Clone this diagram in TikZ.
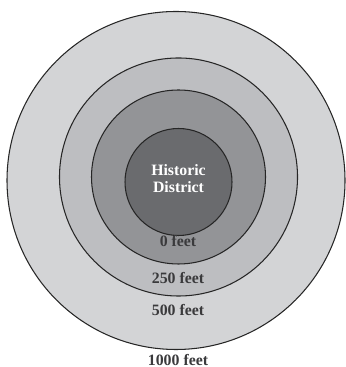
\documentclass[tikz,border=0pt]{standalone}
\usepackage{fontspec}
\setmainfont{Liberation Serif}
\definecolor{ringfour}{HTML}{D3D4D6}
\definecolor{ringthree}{HTML}{BDBEC1}
\definecolor{ringtwo}{HTML}{939497}
\definecolor{ringone}{HTML}{6A6B6E}
\definecolor{labelgray}{HTML}{3A3A3C}
\begin{document}
\begin{tikzpicture}[line width=0.6pt,
  ring/.style={draw=black!85},
  dist/.style={font=\fontsize{9}{9.6}\selectfont\bfseries, text=labelgray, inner sep=1pt}]
  \useasboundingbox (0,0) rectangle (6.900,7.340);
  \filldraw[ring, fill=ringfour] (3.520,3.730) circle (3.380);
  \filldraw[ring, fill=ringthree] (3.570,3.800) circle (2.380);
  \filldraw[ring, fill=ringtwo] (3.570,3.800) circle (1.740);
  \filldraw[ring, fill=ringone] (3.570,3.700) circle (1.070);
  \node[dist, text=white, align=center] (hd) at (3.570,3.770) {Historic\\District};
  \node[dist] (f0) at (3.560,2.520) {0 feet};
  \node[dist] (f250) at (3.560,1.780) {250 feet};
  \node[dist] (f500) at (3.560,1.140) {500 feet};
  \node[dist] (f1000) at (3.560,0.140) {1000 feet};
\end{tikzpicture}
\end{document}
